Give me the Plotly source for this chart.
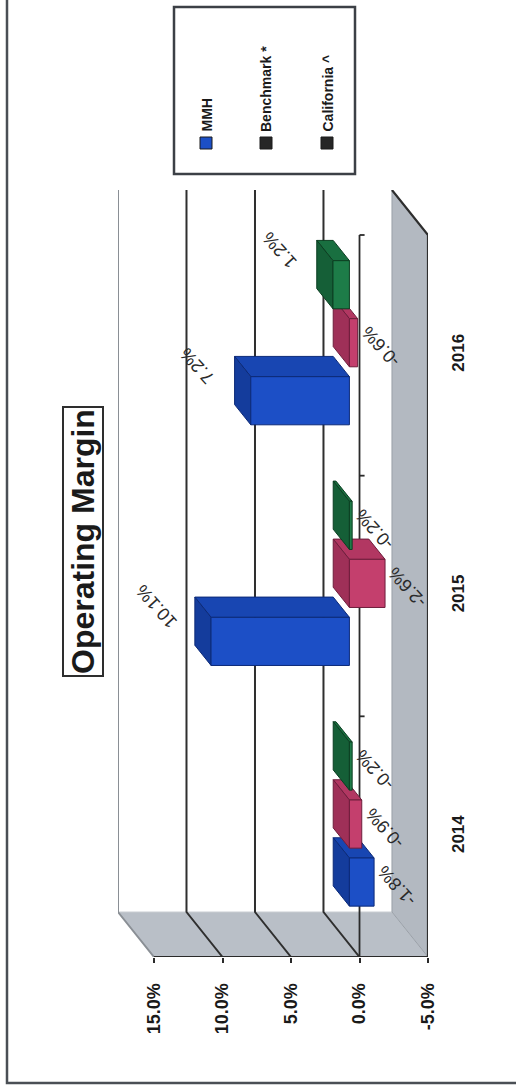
import plotly.graph_objects as go

# ---- data -------------------------------------------------------------
years = ["2014", "2015", "2016"]
series_names = ["MMH", "Benchmark *", "California ^"]
mmh = [-1.8, 10.1, 7.2]
benchmark = [-0.9, -2.6, -0.6]
california = [-0.2, -0.2, 1.2]
value_ticks = [15, 10, 5, 0, -5]
value_tick_text = ["15.0%", "10.0%", "5.0%", "0.0%", "-5.0%"]

series_values = [mmh, benchmark, california]
front_colors = ["#1c4fc6", "#c43f6d", "#1d7c48"]
top_colors = ["#1846b2", "#b23762", "#196f40"]
end_colors = ["#143c9c", "#9f3058", "#155f37"]
edge_colors = ["#0c2a78", "#6e1e3c", "#0c3f22"]
legend_swatch = ["#1c4fc6", "#262626", "#262626"]

FONT = "Liberation Sans, Arial, sans-serif"

# ---- oblique "3-D" frame (depth expressed in axis units) -------------
DEPTH_X = 2.63          # towards the back wall, in % units
DEPTH_Y = 0.187         # towards the back wall, in category units
V_MIN, V_MAX = -5, 15
C_MIN, C_MAX = -0.5, 2.5
BAR_T0, BAR_T1 = 0.28, 0.73     # bar front / back depth
BAR_STEP, BAR_HALF = 0.241, 0.10

# figure / plot-area geometry (pixels)
W, H = 516, 1091
L, R, T, B = 118, 88, 190, 134
PW, PH = W - L - R, H - T - B


def px(x):
    return (x - L) / PW


def py(y):
    return (H - B - y) / PH


def at(v, c, t):
    return v + t * DEPTH_X, c + t * DEPTH_Y


def poly(points, fill, line_color, width=1.0):
    xs = [p[0] for p in points] + [points[0][0]]
    ys = [p[1] for p in points] + [points[0][1]]
    return go.Scatter(x=xs, y=ys, mode="lines", fill="toself",
                      fillcolor=fill, line=dict(color=line_color, width=width),
                      hoverinfo="skip", showlegend=False)


def segs(pairs, color, width):
    xs, ys = [], []
    for pts in pairs:
        for p in pts:
            xs.append(p[0])
            ys.append(p[1])
        xs.append(None)
        ys.append(None)
    return go.Scatter(x=xs, y=ys, mode="lines",
                      line=dict(color=color, width=width),
                      hoverinfo="skip", showlegend=False)


fig = go.Figure()

# walls
fig.add_trace(poly([at(V_MAX, C_MIN, 1), at(V_MIN, C_MIN, 1),
                    at(V_MIN, C_MIN, 0), at(V_MAX, C_MIN, 0)],
                   "#b9bfc7", "#c9cdd2", 1))
fig.add_trace(poly([at(V_MIN, C_MAX, 1), at(V_MIN, C_MIN, 1),
                    at(V_MIN, C_MIN, 0), at(V_MIN, C_MAX, 0)],
                   "#b3b9c1", "#9aa0a8", 1))
fig.add_trace(segs([[at(V_MIN, C_MAX, 1), at(V_MIN, C_MAX, 0), at(V_MIN, C_MIN, 0)]],
                   "#2e2e2e", 2.2))

# gridlines on back wall and side wall
grid = [[at(v, C_MAX, 1), at(v, C_MIN, 1), at(v, C_MIN, 0)]
        for v in value_ticks if v not in (V_MIN, V_MAX)]
fig.add_trace(segs(grid, "#2f2f2f", 2))
fig.add_trace(segs([[at(V_MAX, C_MAX, 1), at(V_MAX, C_MIN, 1), at(V_MAX, C_MIN, 0)]],
                   "#8a8f95", 2))

# value axis line (front edge) and category axis at zero
fig.add_trace(segs([[at(V_MAX, C_MIN, 0), at(V_MIN, C_MIN, 0)]], "#2a2a2a", 2.2))
cat_ticks = [[at(0, c, 0), at(-0.37, c, 0)] for c in (-0.5, 0.5, 1.5, 2.5)]
fig.add_trace(segs([[at(0, C_MIN, 0), at(0, C_MAX, 0)]] + cat_ticks, "#2a2a2a", 1.8))

# bars
annotations = []
for i in range(len(years)):
    for k, vals in enumerate(series_values):
        v = vals[i]
        yc = i + (k - 1) * BAR_STEP
        lo, hi = yc - BAR_HALF, yc + BAR_HALF
        top = [at(0, hi, BAR_T0), at(v, hi, BAR_T0), at(v, hi, BAR_T1), at(0, hi, BAR_T1)]
        xl = max(0, v)
        end = [at(xl, lo, BAR_T0), at(xl, hi, BAR_T0), at(xl, hi, BAR_T1), at(xl, lo, BAR_T1)]
        front = [at(0, lo, BAR_T0), at(v, lo, BAR_T0), at(v, hi, BAR_T0), at(0, hi, BAR_T0)]
        fig.add_trace(poly(top, top_colors[k], edge_colors[k]))
        fig.add_trace(poly(end, end_colors[k], edge_colors[k]))
        fig.add_trace(poly(front, front_colors[k], edge_colors[k]))

        lx, ly = at(v, yc, BAR_T0)
        annotations.append(dict(
            x=lx, y=ly, xref="x", yref="y", text=f"{v:.1f}%",
            showarrow=False, textangle=-132,
            xshift=-54 if v > 0 else 23, yshift=35 if v > 0 else -4,
            font=dict(family=FONT, size=18, color="#2a2a2a")))

# title
annotations.append(dict(
    x=px(62), y=py(542), xref="paper", yref="paper",
    text="<b>Operating Margin</b>", showarrow=False, textangle=-90,
    font=dict(family=FONT, size=32, color="#1a1a1a"),
    bordercolor="#2e2e2e", borderwidth=2, borderpad=1, bgcolor="white"))

# legend (rotated)
shapes = [
    dict(type="rect", xref="paper", yref="paper", x0=px(7), x1=px(560),
         y0=py(1083), y1=py(-30), line=dict(color="#4a4f55", width=2.5)),
    dict(type="rect", xref="paper", yref="paper", x0=px(174), x1=px(355),
         y0=py(174), y1=py(7), line=dict(color="#3c4046", width=2.5),
         fillcolor="white"),
]
legend_x = [206, 266, 327]
for k, name in enumerate(series_names):
    cx = legend_x[k]
    shapes.append(dict(type="rect", xref="paper", yref="paper",
                       x0=px(cx - 6), x1=px(cx + 6), y0=py(149), y1=py(137),
                       line=dict(color="#1a1a1a", width=1), fillcolor=legend_swatch[k]))
    annotations.append(dict(
        x=px(cx), y=py(134), xref="paper", yref="paper", text=f"<b>{name}</b>",
        showarrow=False, textangle=-90, xanchor="center", yanchor="bottom",
        font=dict(family=FONT, size=14, color="#1a1a1a")))

fig.update_layout(
    width=W, height=H, autosize=False,
    margin=dict(l=L, r=R, t=T, b=B, pad=0),
    paper_bgcolor="white", plot_bgcolor="white",
    showlegend=False,
    xaxis=dict(range=[V_MAX + DEPTH_X, V_MIN], showgrid=False, zeroline=False,
               showline=False, tickvals=value_ticks,
               ticktext=[f"<b>{t}</b>" for t in value_tick_text],
               ticks="outside", ticklen=5, tickwidth=2, tickcolor="#2a2a2a",
               tickangle=-90, ticklabelstandoff=13,
               tickfont=dict(family=FONT, size=18, color="#1a1a1a")),
    yaxis=dict(range=[C_MIN, C_MAX + DEPTH_Y], showgrid=False, zeroline=False,
               showline=False, side="right", tickvals=list(range(len(years))),
               ticktext=[f"<b>{y}</b>" for y in years], ticks="", tickangle=-90,
               ticklabelstandoff=18,
               tickfont=dict(family=FONT, size=17, color="#1a1a1a")),
    shapes=shapes,
    annotations=annotations,
)

fig.write_html("out.html")
